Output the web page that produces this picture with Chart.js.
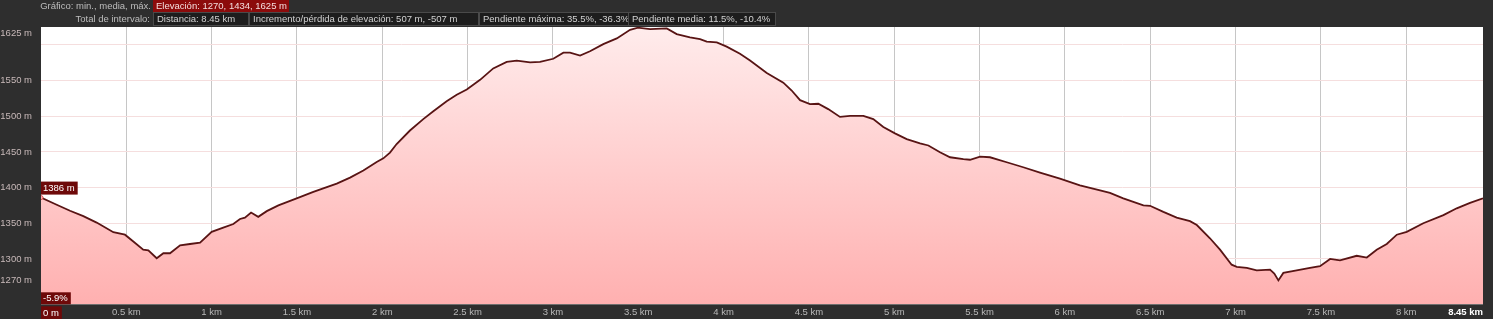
<!DOCTYPE html>
<html>
<head>
<meta charset="utf-8">
<script src="https://cdn.jsdelivr.net/npm/chart.js@4/dist/chart.umd.min.js"></script>
<style>
  body { margin: 0; background: #2e2e2e; font-family: "Liberation Sans", Arial, sans-serif; }
  #wrap { position: relative; width: 1493px; height: 319px; }
  canvas { position: absolute; left: 0; top: 0; }
  .lbl { position: absolute; font-size: 9.5px; color: #bdbdbd; white-space: nowrap; text-align: right; }
  .box { position: absolute; font-size: 9.5px; white-space: nowrap; box-sizing: border-box; padding-left: 3px; }
  .red { background: #8c0b0b; color: #f4dede; height: 12px; line-height: 12px; top: 0; }
  .dark { background: #1d1d1d; border: 1px solid #4a4a4a; color: #d2d2d2; height: 14px; line-height: 12px; top: 12px; }
</style>
</head>
<body>
<div id="wrap">
  <canvas id="profile" width="1493" height="319"></canvas>
  <div class="lbl" style="left:0; width:151px; top:0; line-height:12px;">Gráfico: min., media, máx.</div>
  <div class="box red" style="left:153px; width:136px;">Elevación: 1270, 1434, 1625 m</div>
  <div class="lbl" style="left:0; width:150px; top:13px; line-height:12px;">Total de intervalo:</div>
  <div class="box dark" style="left:153px; width:96px;">Distancia: 8.45 km</div>
  <div class="box dark" style="left:249px; width:230px;">Incremento/pérdida de elevación: 507 m, -507 m</div>
  <div class="box dark" style="left:479px; width:150px;">Pendiente máxima: 35.5%, -36.3%</div>
  <div class="box dark" style="left:628px; width:148px;">Pendiente media: 11.5%, -10.4%</div>
</div>
<script>
// distance along the track (km) and elevation (m)
const distance_km = [
  0, 0.092, 0.170, 0.248, 0.326, 0.424, 0.492, 0.541, 0.599, 0.629,
  0.678, 0.717, 0.756, 0.815, 0.873, 0.932, 1.000, 1.068, 1.127, 1.166,
  1.195, 1.231, 1.273, 1.323, 1.391, 1.498, 1.596, 1.654, 1.733, 1.811,
  1.889, 1.967, 2.006, 2.045, 2.084, 2.162, 2.240, 2.299, 2.377, 2.436,
  2.495, 2.573, 2.650, 2.729, 2.788, 2.866, 2.924, 3.002, 3.061, 3.100,
  3.159, 3.217, 3.295, 3.374, 3.452, 3.498, 3.569, 3.667, 3.725, 3.803,
  3.862, 3.901, 3.960, 4.018, 4.096, 4.155, 4.253, 4.350, 4.399, 4.448,
  4.506, 4.555, 4.613, 4.682, 4.741, 4.819, 4.877, 4.936, 5.004, 5.073,
  5.151, 5.200, 5.268, 5.327, 5.405, 5.444, 5.503, 5.561, 5.659, 5.756,
  5.854, 5.971, 6.088, 6.206, 6.264, 6.342, 6.460, 6.499, 6.577, 6.655,
  6.733, 6.773, 6.850, 6.909, 6.977, 7.007, 7.066, 7.124, 7.202, 7.227,
  7.251, 7.280, 7.358, 7.436, 7.495, 7.554, 7.612, 7.710, 7.769, 7.827,
  7.886, 7.945, 8.003, 8.100, 8.218, 8.296, 8.374, 8.450
];
const elevation_m = [
  1386, 1376, 1367.5, 1360, 1351, 1337.5, 1334, 1324.5, 1313, 1312,
  1301, 1308, 1308, 1319, 1321, 1323, 1338, 1344, 1349, 1356,
  1358, 1365, 1359, 1367, 1375, 1385, 1394, 1399, 1405.5, 1414,
  1424, 1436, 1441, 1449, 1461, 1480, 1496, 1507, 1521, 1530,
  1537.5, 1551, 1567, 1576, 1578, 1575.5, 1576, 1580.5, 1589, 1589,
  1585, 1591, 1601, 1609, 1621, 1624, 1622, 1623, 1615, 1610.5,
  1608, 1604.5, 1603.5, 1597.5, 1587.5, 1578, 1560.5, 1547, 1536, 1522.5,
  1517, 1517.5, 1510, 1499, 1500.5, 1500.5, 1496, 1485, 1476, 1468,
  1462, 1459, 1449.5, 1442.5, 1440, 1439, 1443.5, 1442.5, 1435.5, 1428.5,
  1421, 1412.5, 1403, 1396, 1392.5, 1385, 1375, 1374.5, 1366, 1358,
  1353, 1347.5, 1329, 1313, 1292, 1289, 1287.5, 1284, 1285, 1279.5,
  1270, 1280.5, 1284, 1287.5, 1290, 1300, 1298, 1304.5, 1302, 1313,
  1321, 1334, 1338, 1350, 1361.5, 1371, 1378.5, 1385
];

// axis ticks
const x_ticks = [0, 0.5, 1, 1.5, 2, 2.5, 3, 3.5, 4, 4.5, 5, 5.5, 6, 6.5, 7, 7.5, 8, 8.45];
const y_ticks = [1270, 1300, 1350, 1400, 1450, 1500, 1550, 1600, 1625];

const start_label = "1386 m";
const start_grade = "-5.9%";

const points = distance_km.map((d, i) => ({ x: d, y: elevation_m[i] }));

const FONT = '"Liberation Sans", Arial, sans-serif';

// white plot background + the small dark red tags
const decorations = {
  id: "decorations",
  beforeDraw(chart) {
    const { ctx, chartArea: a } = chart;
    ctx.save();
    ctx.fillStyle = "#ffffff";
    ctx.fillRect(a.left, a.top, a.right - a.left, a.bottom - a.top);
    ctx.restore();
  },
  afterDraw(chart) {
    const { ctx, chartArea: a, scales } = chart;
    ctx.save();
    ctx.font = "9.5px " + FONT;
    ctx.textBaseline = "middle";

    const tag = (text, x, y, h, color) => {
      const w = ctx.measureText(text).width + 5;
      ctx.fillStyle = "#6e0909";
      ctx.fillRect(x, y, w, h);
      ctx.fillStyle = color || "#ffffff";
      ctx.textAlign = "left";
      ctx.fillText(text, x + 2, y + h / 2 + 0.5);
    };

    const py = scales.y.getPixelForValue(elevation_m[0]);
    tag(start_label, a.left, py - 16, 13);
    tag(start_grade, a.left, a.bottom - 12, 12);
    tag("0 m", a.left, a.bottom + 2, 14);

    // top y label sits just inside the plot
    ctx.fillStyle = "#c8b9b9";
    ctx.textAlign = "right";
    ctx.fillText("1625 m", 32, a.top + 6);

    // last distance label
    ctx.font = "bold 9.5px " + FONT;
    ctx.fillStyle = "#ffffff";
    ctx.textAlign = "right";
    ctx.fillText("8.45 km", a.right, a.bottom + 8);
    ctx.restore();
  }
};

const config = {
  type: "line",
  data: {
    datasets: [
      {
        data: points,
        borderColor: "#581414",
        borderWidth: 1.8,
        tension: 0,
        fill: "start",
        backgroundColor: (c) => {
          const area = c.chart.chartArea;
          if (!area) return "rgba(255,180,180,1)";
          const g = c.chart.ctx.createLinearGradient(0, area.top, 0, area.bottom);
          g.addColorStop(0, "rgba(255,236,236,1)");
          g.addColorStop(1, "rgba(255,176,176,1)");
          return g;
        },
        pointRadius: (c) => (c.dataIndex === 0 ? 2 : 0),
        pointBackgroundColor: "#ffb0b0",
        pointBorderColor: "#e05050",
        pointBorderWidth: 1,
      },
    ],
  },
  options: {
    responsive: false,
    animation: false,
    layout: { padding: { top: 27, right: 10, left: 0, bottom: 0 } },
    plugins: {
      legend: { display: false },
      tooltip: { enabled: false },
    },
    scales: {
      x: {
        type: "linear",
        min: 0,
        max: 8.45,
        afterBuildTicks: (scale) => {
          scale.ticks = x_ticks.map((v) => ({ value: v }));
        },
        afterFit: (scale) => {
          scale.height = 14;
        },
        border: { display: false },
        grid: {
          drawTicks: false,
          color: (c) => (c.tick && (c.tick.value === 0 || c.tick.value === 8.45) ? "rgba(0,0,0,0)" : "#c6c6c6"),
        },
        ticks: {
          padding: 2,
          maxRotation: 0,
          autoSkip: false,
          color: "#b8b8b8",
          font: { size: 9.5, family: FONT },
          callback: (v) => (v === 0 || v === 8.45 ? "" : v + " km"),
        },
      },
      y: {
        min: 1236.5,
        max: 1625,
        afterBuildTicks: (scale) => {
          scale.ticks = y_ticks.map((v) => ({ value: v }));
        },
        afterFit: (scale) => {
          scale.width = 41;
        },
        border: { display: false },
        grid: {
          drawTicks: false,
          color: (c) => (c.tick && c.tick.value === 1625 ? "rgba(0,0,0,0)" : "#f5dede"),
        },
        ticks: {
          padding: 9,
          autoSkip: false,
          color: "#c8b9b9",
          font: { size: 9.5, family: FONT },
          callback: (v) => (v === 1600 || v === 1625 ? "" : v + " m"),
        },
      },
    },
  },
  plugins: [decorations],
};

new Chart(document.getElementById("profile").getContext("2d"), config);
</script>
</body>
</html>
